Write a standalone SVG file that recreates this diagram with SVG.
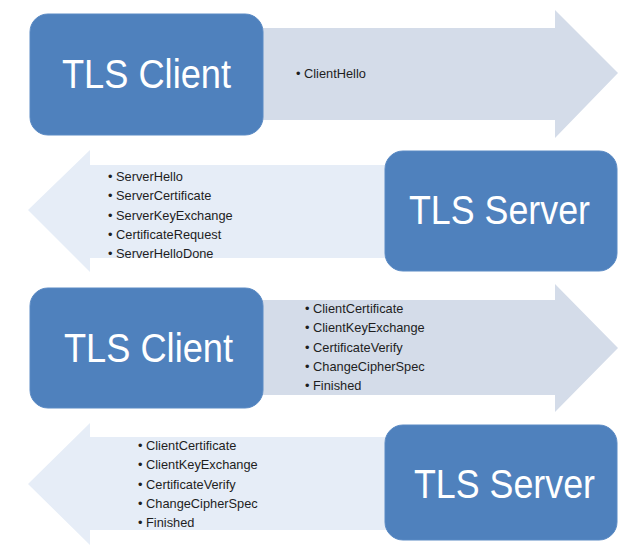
<svg xmlns="http://www.w3.org/2000/svg" width="634" height="545" viewBox="0 0 634 545">
<style>
.box{fill:#4F81BD;stroke:#5a8ac4;stroke-width:1}
.title{font-family:"Liberation Sans",Arial,sans-serif;font-size:40px;fill:#ffffff}
.item{font-family:"Liberation Sans",Arial,sans-serif;font-size:12.8px;fill:#1e1e1e}
.rarrow{fill:#D4DCE9}
.larrow{fill:#E6EDF7}
</style>
<rect width="634" height="545" fill="#ffffff"/>
<g id="connectors">
<polygon class="rarrow" points="215,28 555,28 555,10 618,73 555,138 555,120 215,120"/>
<polygon class="larrow" points="28,210 90,150 90,165 400,165 400,258 90,258 90,272"/>
<polygon class="rarrow" points="215,300 555,300 555,284 618,348 555,412 555,395 215,395"/>
<polygon class="larrow" points="28,484 90,423 90,437 400,437 400,530 90,530 90,545"/>
<text class="item" x="296" y="78">• ClientHello</text>
<text class="item" x="108" y="181">• ServerHello</text>
<text class="item" x="108" y="200">• ServerCertificate</text>
<text class="item" x="108" y="220">• ServerKeyExchange</text>
<text class="item" x="108" y="239">• CertificateRequest</text>
<text class="item" x="108" y="258">• ServerHelloDone</text>
<text class="item" x="305" y="313">• ClientCertificate</text>
<text class="item" x="305" y="332">• ClientKeyExchange</text>
<text class="item" x="305" y="352">• CertificateVerify</text>
<text class="item" x="305" y="371">• ChangeCipherSpec</text>
<text class="item" x="305" y="390">• Finished</text>
<text class="item" x="138" y="450">• ClientCertificate</text>
<text class="item" x="138" y="469">• ClientKeyExchange</text>
<text class="item" x="138" y="489">• CertificateVerify</text>
<text class="item" x="138" y="508">• ChangeCipherSpec</text>
<text class="item" x="138" y="527">• Finished</text>
</g>
<g id="client1">
<rect class="box" x="30" y="14" width="233" height="121" rx="18"/>
<text class="title" x="62" y="88" textLength="169" lengthAdjust="spacingAndGlyphs">TLS Client</text>
</g>
<g id="server1">
<rect class="box" x="385" y="151" width="232" height="120" rx="18"/>
<text class="title" x="409" y="224" textLength="181" lengthAdjust="spacingAndGlyphs">TLS Server</text>
</g>
<g id="client2">
<rect class="box" x="30" y="288" width="233" height="120" rx="18"/>
<text class="title" x="64" y="362" textLength="169" lengthAdjust="spacingAndGlyphs">TLS Client</text>
</g>
<g id="server2">
<rect class="box" x="385" y="425" width="232" height="115" rx="18"/>
<text class="title" x="414" y="498" textLength="181" lengthAdjust="spacingAndGlyphs">TLS Server</text>
</g>
</svg>
